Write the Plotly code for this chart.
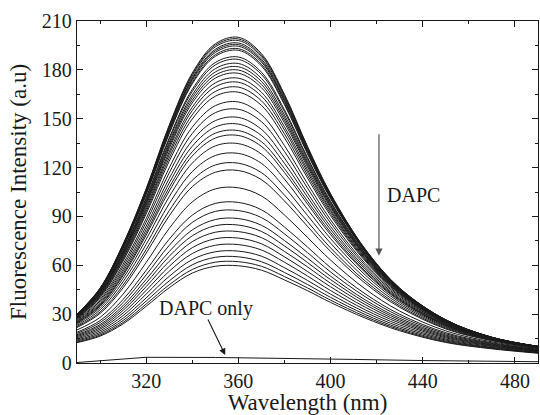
import plotly.graph_objects as go

wavelengths = [290, 300, 310, 320, 330, 340, 350, 360, 370, 380, 390, 400, 415, 430, 450, 470, 490]

spectra = [
    [30.0, 46.0, 73.0, 107.0, 146.0, 178.0, 196.0, 200.0, 190.0, 165.0, 133.0, 104.0, 70.0, 46.0, 26.5, 15.8, 10.2],
    [29.9, 45.8, 72.7, 106.6, 145.4, 177.2, 195.1, 199.0, 189.1, 164.2, 132.4, 103.6, 69.8, 45.9, 26.5, 15.8, 10.2],
    [29.9, 45.7, 72.4, 106.1, 144.7, 176.3, 194.1, 198.0, 188.1, 163.4, 131.9, 103.2, 69.6, 45.8, 26.4, 15.8, 10.2],
    [29.7, 45.4, 71.9, 105.4, 143.8, 175.1, 192.6, 196.5, 186.7, 162.2, 131.0, 102.6, 69.3, 45.7, 26.3, 15.7, 10.2],
    [29.7, 45.2, 71.6, 104.9, 143.1, 174.3, 191.7, 195.5, 185.7, 161.4, 130.4, 102.2, 69.1, 45.6, 26.3, 15.7, 10.2],
    [29.6, 45.1, 71.3, 104.5, 142.4, 173.4, 190.7, 194.5, 184.8, 160.6, 129.9, 101.9, 68.8, 45.5, 26.3, 15.7, 10.1],
    [29.5, 44.8, 70.9, 103.9, 141.4, 172.2, 189.3, 193.0, 183.4, 159.4, 129.0, 101.3, 68.5, 45.3, 26.2, 15.7, 10.1],
    [29.4, 44.6, 70.5, 103.3, 140.8, 171.4, 188.3, 192.0, 182.4, 158.6, 128.4, 100.9, 68.3, 45.2, 26.1, 15.6, 10.1],
    [29.1, 44.0, 69.3, 101.6, 138.2, 168.0, 184.5, 187.9, 178.6, 155.5, 126.2, 99.3, 67.5, 44.8, 26.0, 15.6, 10.1],
    [29.0, 43.7, 68.9, 100.8, 137.2, 166.7, 183.0, 186.4, 177.2, 154.3, 125.3, 98.7, 67.2, 44.7, 25.9, 15.5, 10.1],
    [28.8, 43.3, 68.1, 99.7, 135.5, 164.6, 180.7, 183.9, 174.8, 152.3, 123.9, 97.8, 66.6, 44.4, 25.8, 15.5, 10.0],
    [28.7, 42.9, 67.5, 98.8, 134.2, 163.0, 178.7, 181.9, 172.9, 150.7, 122.7, 97.0, 66.2, 44.2, 25.7, 15.4, 10.0],
    [28.5, 42.6, 66.9, 97.9, 132.9, 161.3, 176.8, 179.9, 171.0, 149.1, 121.6, 96.2, 65.8, 44.0, 25.6, 15.4, 10.0],
    [28.3, 42.2, 66.2, 96.9, 131.6, 159.7, 174.9, 177.9, 169.1, 147.5, 120.4, 95.4, 65.3, 43.7, 25.5, 15.4, 10.0],
    [28.1, 41.7, 65.3, 95.5, 129.6, 157.1, 172.0, 174.9, 166.3, 145.1, 118.7, 94.1, 64.6, 43.4, 25.3, 15.3, 10.0],
    [27.8, 41.2, 64.5, 94.3, 127.9, 155.0, 169.6, 172.4, 163.9, 143.1, 117.2, 93.1, 64.0, 43.0, 25.2, 15.3, 9.9],
    [27.6, 40.7, 63.5, 92.9, 125.9, 152.4, 166.7, 169.4, 161.0, 140.7, 115.4, 91.8, 63.3, 42.6, 25.0, 15.2, 9.9],
    [27.3, 40.1, 62.6, 91.5, 123.9, 149.8, 163.8, 166.3, 158.2, 138.3, 113.6, 90.5, 62.6, 42.2, 24.9, 15.1, 9.9],
    [26.8, 39.0, 60.7, 88.6, 119.8, 144.8, 158.0, 160.3, 152.5, 133.5, 110.1, 88.0, 61.1, 41.5, 24.5, 15.0, 9.8],
    [26.3, 38.1, 59.1, 86.4, 116.7, 140.9, 153.7, 155.8, 148.2, 129.9, 107.4, 86.0, 59.9, 40.8, 24.2, 14.9, 9.7],
    [25.7, 37.1, 57.5, 84.0, 113.3, 136.6, 148.8, 150.8, 143.5, 125.9, 104.3, 83.8, 58.6, 40.0, 23.8, 14.8, 9.7],
    [25.3, 36.3, 56.1, 81.9, 110.5, 133.1, 144.9, 146.7, 139.7, 122.6, 101.9, 82.0, 57.5, 39.3, 23.5, 14.7, 9.6],
    [24.8, 35.5, 54.7, 80.0, 107.8, 129.7, 141.1, 142.7, 135.9, 119.4, 99.4, 80.2, 56.4, 38.7, 23.2, 14.6, 9.5],
    [24.5, 34.9, 53.7, 78.5, 105.6, 127.1, 138.1, 139.7, 133.0, 117.0, 97.6, 78.8, 55.6, 38.2, 23.0, 14.5, 9.5],
    [23.9, 33.9, 52.0, 75.9, 102.1, 122.7, 133.3, 134.7, 128.3, 112.9, 94.4, 76.4, 54.1, 37.3, 22.5, 14.3, 9.4],
    [23.1, 32.6, 49.9, 72.8, 97.8, 117.5, 127.4, 128.7, 122.6, 108.0, 90.6, 73.6, 52.2, 36.2, 22.0, 14.1, 9.3],
    [22.4, 31.3, 47.8, 69.7, 93.5, 112.2, 121.6, 122.7, 116.9, 103.1, 86.8, 70.7, 50.4, 35.1, 21.4, 13.9, 9.2],
    [21.8, 30.4, 46.2, 67.4, 90.3, 108.2, 117.1, 118.2, 112.6, 99.5, 83.9, 68.5, 49.0, 34.2, 20.9, 13.7, 9.2],
    [20.3, 28.0, 42.3, 61.7, 82.6, 98.9, 106.9, 107.6, 102.6, 90.9, 77.1, 63.2, 45.5, 31.9, 19.7, 13.0, 8.8],
    [18.9, 26.0, 39.0, 56.9, 76.0, 90.8, 98.0, 98.6, 94.1, 83.5, 71.2, 58.6, 42.5, 29.9, 18.6, 12.4, 8.4],
    [18.2, 24.8, 37.1, 54.1, 72.2, 86.3, 93.1, 93.6, 89.3, 79.3, 67.8, 55.9, 40.7, 28.7, 17.9, 12.0, 8.2],
    [17.4, 23.6, 35.2, 51.3, 68.4, 81.7, 88.1, 88.7, 84.6, 75.2, 64.4, 53.3, 38.8, 27.5, 17.2, 11.6, 7.9],
    [16.8, 22.7, 33.7, 49.1, 65.5, 78.1, 84.3, 84.7, 80.8, 71.9, 61.7, 51.2, 37.4, 26.5, 16.6, 11.2, 7.7],
    [16.2, 21.7, 32.3, 46.9, 62.4, 74.5, 80.3, 80.7, 77.0, 68.5, 59.0, 49.0, 35.9, 25.5, 16.0, 10.9, 7.5],
    [15.5, 20.8, 30.7, 44.6, 59.3, 70.8, 76.3, 76.7, 73.2, 65.2, 56.2, 46.8, 34.3, 24.5, 15.4, 10.5, 7.2],
    [14.8, 19.8, 29.1, 42.3, 56.3, 67.2, 72.3, 72.7, 69.4, 61.9, 53.4, 44.5, 32.7, 23.4, 14.7, 10.1, 6.9],
    [14.1, 18.8, 27.5, 40.0, 53.2, 63.5, 68.3, 68.7, 65.6, 58.5, 50.7, 42.3, 31.2, 22.3, 14.1, 9.6, 6.6],
    [13.5, 17.9, 26.1, 38.0, 50.4, 60.3, 64.9, 65.2, 62.2, 55.6, 48.2, 40.3, 29.8, 21.3, 13.5, 9.3, 6.4],
    [12.9, 17.1, 24.9, 36.2, 48.0, 57.4, 61.9, 62.2, 59.4, 53.1, 46.1, 38.6, 28.6, 20.5, 13.0, 9.0, 6.2],
    [12.5, 16.5, 24.0, 34.8, 46.2, 55.2, 59.4, 59.7, 57.0, 51.0, 44.4, 37.2, 27.6, 19.8, 12.6, 8.7, 6.0],
]

dapc_only_wl = [290, 320, 350, 380, 410, 440, 470, 490]
dapc_only_val = [0.3, 3.5, 3.4, 3.0, 2.2, 1.5, 1.0, 0.8]

x_ticks = [320, 360, 400, 440, 480]
y_ticks = [0, 30, 60, 90, 120, 150, 180, 210]

FONT = "Liberation Serif, Times New Roman, serif"

fig = go.Figure()
for s in spectra:
    fig.add_trace(go.Scatter(x=wavelengths, y=s, mode="lines",
                             line=dict(color="#1a1a1a", width=1, shape="spline", smoothing=1.0),
                             showlegend=False, hoverinfo="skip"))
fig.add_trace(go.Scatter(x=dapc_only_wl, y=dapc_only_val, mode="lines",
                         line=dict(color="#1a1a1a", width=1),
                         showlegend=False, hoverinfo="skip"))

fig.add_annotation(x=421, y=65.9, ax=421, ay=141.4, xref="x", yref="y", axref="x", ayref="y",
                   text="", showarrow=True, arrowhead=2, arrowsize=1.2, arrowwidth=1.2,
                   arrowcolor="#555555")
fig.add_annotation(x=436, y=103, xref="x", yref="y", text="DAPC", showarrow=False,
                   font=dict(family=FONT, size=20, color="#1a1a1a"))
fig.add_annotation(x=354.3, y=4.9, ax=346.5, ay=27.6, xref="x", yref="y", axref="x", ayref="y",
                   text="", showarrow=True, arrowhead=2, arrowsize=1.2, arrowwidth=1.1,
                   arrowcolor="#1a1a1a")
fig.add_annotation(x=345.9, y=33.5, xref="x", yref="y", text="DAPC only", showarrow=False,
                   font=dict(family=FONT, size=20, color="#1a1a1a"))

axis_common = dict(showline=True, linecolor="#1a1a1a", linewidth=1.3, mirror="ticks",
                   ticks="inside", ticklen=6, tickwidth=1.1, tickcolor="#1a1a1a",
                   showgrid=False, zeroline=False,
                   tickfont=dict(family=FONT, size=20, color="#1a1a1a"))

fig.update_xaxes(range=[290, 490], tickvals=x_ticks,
                 minor=dict(ticks="inside", ticklen=3, tickwidth=1, tickcolor="#1a1a1a", dtick=20, tick0=0),
                 title=dict(text="Wavelength (nm)", font=dict(family=FONT, size=23, color="#1a1a1a"), standoff=2),
                 **axis_common)
fig.update_yaxes(range=[0, 210], tickvals=y_ticks,
                 minor=dict(ticks="inside", ticklen=3, tickwidth=1, tickcolor="#1a1a1a", dtick=15, tick0=0),
                 title=dict(text="Fluorescence Intensity (a.u)", font=dict(family=FONT, size=23, color="#1a1a1a"), standoff=8),
                 **axis_common)

fig.update_layout(width=540, height=415, margin=dict(l=77, r=2, t=21, b=52, autoexpand=False),
                  plot_bgcolor="white", paper_bgcolor="white")

fig.write_html("out.html")
